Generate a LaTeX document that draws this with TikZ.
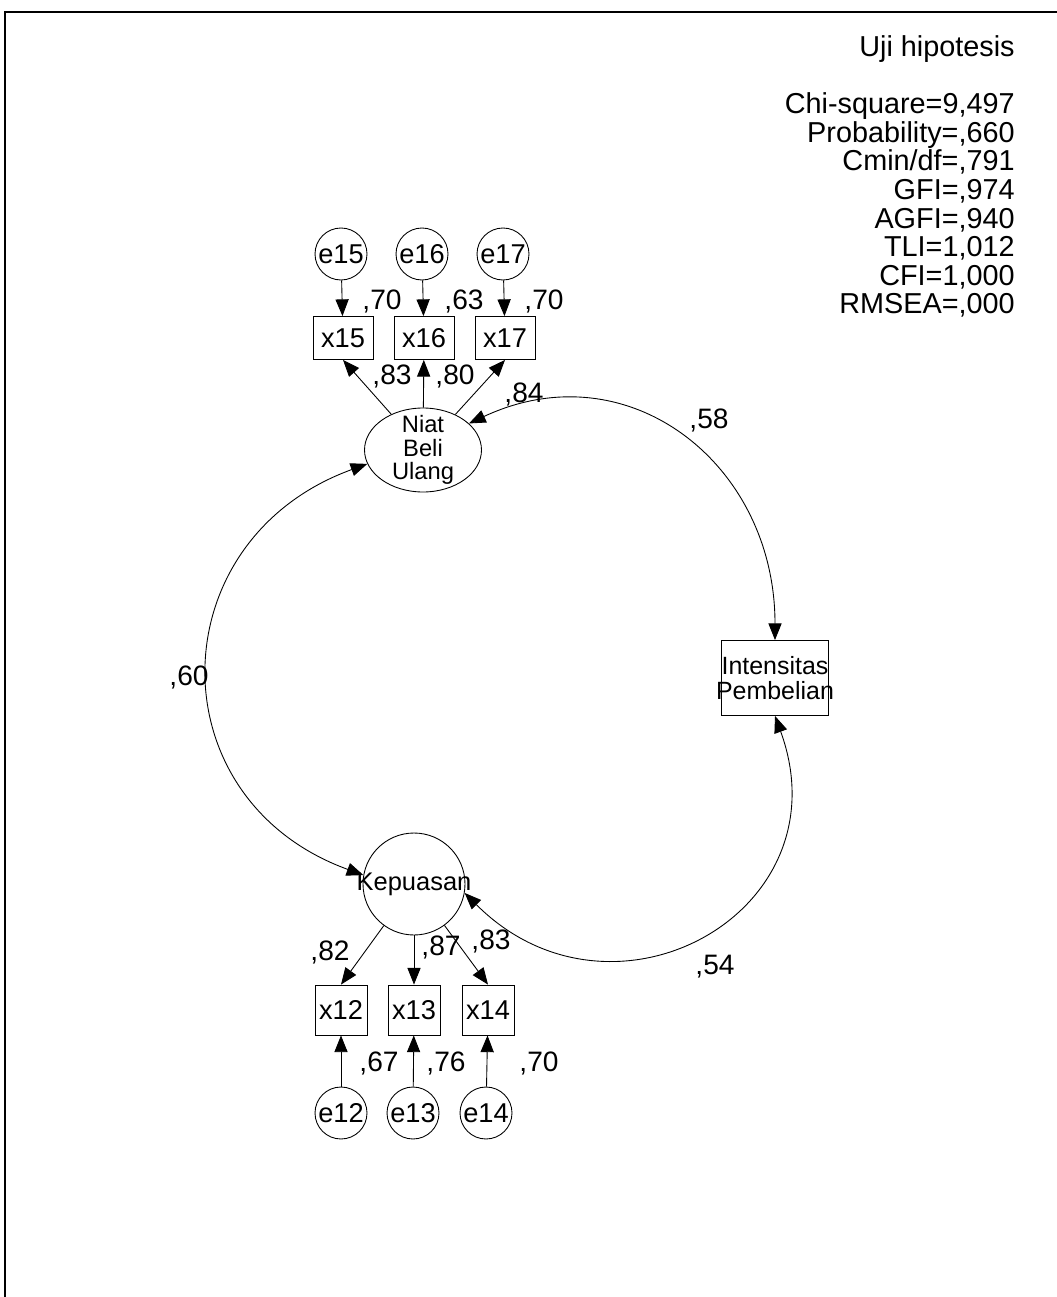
\documentclass[tikz,border=0pt]{standalone}
\usepackage{fontspec}
\setmainfont{Liberation Sans}
\usetikzlibrary{arrows.meta,shapes.geometric}

\begin{document}
\begin{tikzpicture}[x=0.02cm, y=-0.02cm,
    >={Triangle[length=9.5pt,width=7.5pt]},
    err/.style={draw, circle, minimum size=1.04cm, inner sep=0pt, line width=0.5pt, font=\fontsize{15.5}{15.5}\selectfont},
    obs/.style={draw, rectangle, minimum width=1.2cm, minimum height=0.86cm, inner sep=0pt, line width=0.5pt, font=\fontsize{15.5}{15.5}\selectfont},
    lbl/.style={inner sep=0pt, font=\fontsize{16}{16}\selectfont},
    load/.style={->, line width=0.5pt},
    covar/.style={<->, line width=0.5pt}]
    \useasboundingbox (0,0) rectangle (1057,1297);

    % Draw the frame
    \draw[line width=1.2pt] (5,1297) -- (5,12) -- (1057,12);

    % Add the fit summary
    \node[anchor=north east, align=right, inner sep=0pt, font=\fontsize{16.4}{16.3}\selectfont] (fitstats) at (1015,35)
      {Uji hipotesis\\[16.3pt]
       Chi-square=9,497\\ Probability=,660\\ Cmin/df=,791\\ GFI=,974\\
       AGFI=,940\\ TLI=1,012\\ CFI=1,000\\ RMSEA=,000};

    % Draw the construct Niat Beli Ulang with its indicators
    \node[err] (e15) at (341,254) {e15};
    \node[err] (e16) at (422,254) {e16};
    \node[err] (e17) at (503,254) {e17};
    \node[obs] (x15) at (343,338) {x15};
    \node[obs] (x16) at (424,338) {x16};
    \node[obs] (x17) at (505,338) {x17};
    \node[draw, ellipse, minimum width=2.34cm, minimum height=1.68cm, inner sep=0pt, inner ysep=-12pt,
      line width=0.5pt, align=center, font=\fontsize{13.5}{13.4}\selectfont] (niat) at (423,450) {Niat\\Beli\\Ulang};

    % Draw the construct Kepuasan with its indicators
    \node[draw, circle, minimum size=2.04cm, inner sep=0pt, inner xsep=-9pt, line width=0.5pt,
      font=\fontsize{14.5}{14.5}\selectfont] (kep) at (414,884) {Kepuasan};
    \node[obs, minimum width=1.04cm, minimum height=1cm] (x12) at (341,1010) {x12};
    \node[obs, minimum width=1.04cm, minimum height=1cm] (x13) at (414,1010) {x13};
    \node[obs, minimum width=1.04cm, minimum height=1cm] (x14) at (488,1010) {x14};
    \node[err] (e12) at (341,1113) {e12};
    \node[err] (e13) at (413,1113) {e13};
    \node[err] (e14) at (486,1113) {e14};

    % Draw the observed variable Intensitas Pembelian
    \node[draw, rectangle, minimum width=2.14cm, minimum height=1.5cm, inner sep=0pt, inner xsep=-6pt,
      line width=0.5pt, align=center, font=\fontsize{14.2}{14.2}\selectfont] (int) at (775,678) {Intensitas\\Pembelian};

    % Loadings and error terms
    \draw[load] (e15) -- (x15);
    \draw[load] (e16) -- (x16);
    \draw[load] (e17) -- (x17);
    \draw[load] (niat) -- (x15.south);
    \draw[load] (niat) -- (x16);
    \draw[load] (niat) -- (x17.south);
    \draw[load] (kep) -- (x12.north);
    \draw[load] (kep) -- (x13);
    \draw[load] (kep) -- (x14.north);
    \draw[load] (e12) -- (x12);
    \draw[load] (e13) -- (x13);
    \draw[load] (e14) -- (x14);

    % Correlations
    \draw[covar] (niat.30) to[out=25, in=90, looseness=1.2] (int.north);
    \draw[covar] (niat.194) to[out=200, in=160, looseness=1.38] (kep.170);
    \draw[covar] (kep.-10) to[out=-45, in=-70, looseness=1.5] (int.south);

    % Estimates
    \node[lbl] (r15) at (382,301) {,70};
    \node[lbl] (r16) at (464,301) {,63};
    \node[lbl] (r17) at (544,301) {,70};
    \node[lbl] (w15) at (392,376) {,83};
    \node[lbl] (w16) at (455,376) {,80};
    \node[lbl] (w17) at (524,394) {,84};
    \node[lbl] (c58) at (709,420) {,58};
    \node[lbl] (c60) at (189,677) {,60};
    \node[lbl] (c54) at (715,967) {,54};
    \node[lbl] (w12) at (330,952) {,82};
    \node[lbl] (w13) at (441,947) {,87};
    \node[lbl] (w14) at (491,941) {,83};
    \node[lbl] (r12) at (379,1063) {,67};
    \node[lbl] (r13) at (446,1063) {,76};
    \node[lbl] (r14) at (539,1063) {,70};
\end{tikzpicture}
\end{document}
